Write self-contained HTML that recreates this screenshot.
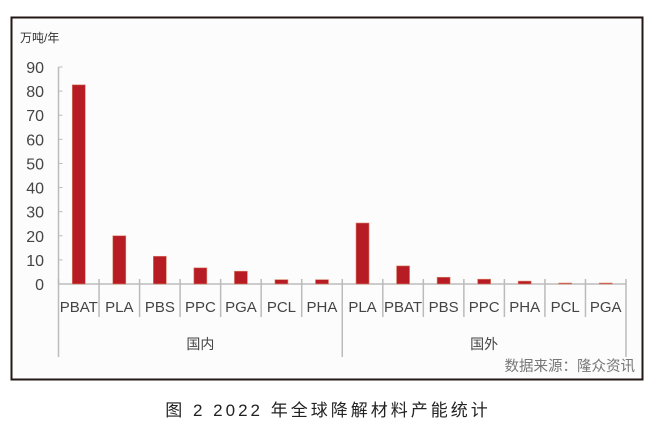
<!DOCTYPE html>
<html><head><meta charset="utf-8"><style>
body{margin:0;background:#fff;width:655px;height:428px;overflow:hidden;font-family:"Liberation Sans","Noto Sans CJK SC",sans-serif}
svg text{font-family:"Liberation Sans","Noto Sans CJK SC",sans-serif}
</style></head><body>
<svg width="655" height="428">
<rect x="11.5" y="17.5" width="631" height="362" fill="#fcfcfc" stroke="#231815" stroke-width="2"/>
<text x="20" y="42" font-size="12" fill="#333">万吨/年</text>
<g id="plot"></g>
<text x="635" y="371" font-size="14.5" fill="#777" text-anchor="end">数据来源：隆众资讯</text>
<text x="328" y="416" font-size="17" fill="#222" text-anchor="middle" letter-spacing="3">图 2  2022 年全球降解材料产能统计</text>
</svg>
<script>
const categories=["PBAT","PLA","PBS","PPC","PGA","PCL","PHA","PLA","PBAT","PBS","PPC","PHA","PCL","PGA"];
const values=[82.6,20,11.5,6.7,5.3,1.8,1.8,25.3,7.5,2.8,2,1.2,0.4,0.4];
const groups=["国内","国外"];
const groupSizes=[7,7];
const yTicks=[0,10,20,30,40,50,60,70,80,90];
const NS="http://www.w3.org/2000/svg";
const g=document.getElementById('plot');
const x0=58.5,x1=626,y0=284,yTop=67,yMax=90;
const bw=(x1-x0)/categories.length;
const y=v=>y0-(v/yMax)*(y0-yTop);
const xc=i=>x0+bw*(i+0.5);
function mk(t,a){const e=document.createElementNS(NS,t);for(const k in a)e.setAttribute(k,a[k]);g.appendChild(e);return e;}
let ax=mk('line',{x1:x0,y1:yTop,x2:x0,y2:y0,stroke:'#bbb','stroke-width':1.5});


yTicks.forEach(v=>{
 let l=mk('line',{x1:x0,y1:y(v),x2:x0+4,y2:y(v),stroke:'#bbb'});
 
 
 let t=mk('text',{x:44,y:y(v)+6,'font-size':16,fill:'#444','text-anchor':'end'});t.textContent=v;
 
 
});
let xa=mk('line',{x1:x0,y1:y0,x2:x1,y2:y0,stroke:'#bbb','stroke-width':1.5});


let bounds=[0];groupSizes.reduce((a,s)=>{bounds.push(a+s);return a+s;},0);
for(let i=0;i<=categories.length;i++){
 const isG=bounds.includes(i);
 let l=mk('line',{x1:x0+bw*i,y1:279,x2:x0+bw*i,y2:isG?357:317,stroke:'#bbb','stroke-width':1.5});
 
 
}
categories.forEach((c,i)=>{
 let r=mk('rect',{x:xc(i)-6.5,y:y(values[i]),width:13,height:y0-y(values[i]),fill:'#b71c24',stroke:'#d9846a','stroke-width':0.6});
 
 
 let t=mk('text',{x:xc(i),y:312,'font-size':15,fill:'#444','text-anchor':'middle'});t.textContent=c;
 
 
});
groups.forEach((gname,j)=>{
 const cx=x0+bw*(bounds[j]+bounds[j+1])/2;
 let t=mk('text',{x:cx,y:349,'font-size':14,fill:'#444','text-anchor':'middle'});t.textContent=gname;
 
 
});
</script>
</body></html>
